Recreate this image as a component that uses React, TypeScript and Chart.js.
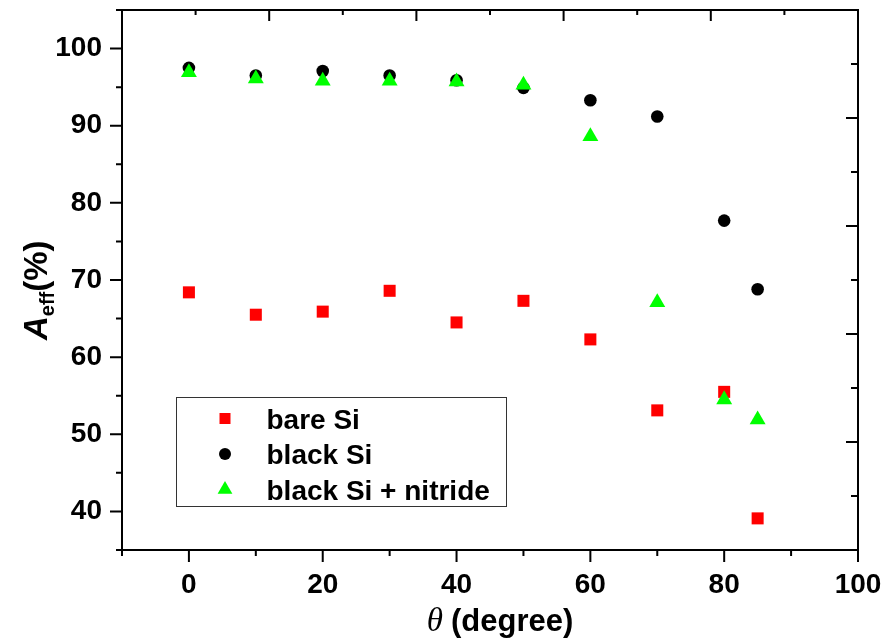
import React, { useEffect, useRef } from 'react';
import { Chart, registerables } from 'chart.js';

Chart.register(...registerables);

// ---- data ----
const angles = [0, 10, 20, 30, 40, 50, 60, 70, 80, 85];
const bareSi = [68.4, 65.5, 65.9, 68.6, 64.5, 67.3, 62.3, 53.1, 55.5, 39.1];
const blackSi = [97.5, 96.5, 97.1, 96.5, 95.9, 94.9, 93.3, 91.2, 77.7, 68.8];
const blackSiNitride = [96.9, 96.1, 95.8, 95.8, 95.7, 95.3, 88.6, 67.1, 54.5, 51.9];
const seriesLabels = ['bare Si', 'black Si', 'black Si + nitride'];
const seriesColors = ['#ff0000', '#000000', '#00ff00'];

const xTickLabels = [0, 20, 40, 60, 80, 100];
const xMinorTicks = [-10, 10, 30, 50, 70, 90];
const yTickLabels = [40, 50, 60, 70, 80, 90, 100];
const yMinorTicks = [35, 45, 55, 65, 75, 85, 95, 105];
const topMajorTicks = [0, 20, 40, 60, 80, 100];
const topMinorTicks = [10, 30, 50, 70, 90];
const rightMajorTicks = [0, 20, 40, 60, 80, 100];
const rightMinorTicks = [10, 30, 50, 70, 90];

const SANS = '"Liberation Sans", Arial, sans-serif';

const framePlugin = {
  id: 'frameTicks',
  afterDraw(chart: any) {
    const { ctx, chartArea: a, scales } = chart;
    ctx.save();
    ctx.strokeStyle = '#000';
    ctx.lineWidth = 2;
    ctx.strokeRect(a.left, a.top, a.right - a.left, a.bottom - a.top);
    ctx.beginPath();
    const MAJ = 12, MIN = 6;
    xTickLabels.forEach((v) => { const p = scales.x.getPixelForValue(v); ctx.moveTo(p, a.bottom); ctx.lineTo(p, a.bottom + MAJ); });
    xMinorTicks.forEach((v) => { const p = scales.x.getPixelForValue(v); ctx.moveTo(p, a.bottom); ctx.lineTo(p, a.bottom + MIN); });
    yTickLabels.forEach((v) => { const p = scales.y.getPixelForValue(v); ctx.moveTo(a.left, p); ctx.lineTo(a.left - MAJ, p); });
    yMinorTicks.forEach((v) => { const p = scales.y.getPixelForValue(v); ctx.moveTo(a.left, p); ctx.lineTo(a.left - MIN, p); });
    topMajorTicks.forEach((v) => { const p = scales.x2.getPixelForValue(v); ctx.moveTo(p, a.top); ctx.lineTo(p, a.top + 11); });
    topMinorTicks.forEach((v) => { const p = scales.x2.getPixelForValue(v); ctx.moveTo(p, a.top); ctx.lineTo(p, a.top + 5); });
    rightMajorTicks.forEach((v) => { const p = scales.y2.getPixelForValue(v); ctx.moveTo(a.right, p); ctx.lineTo(a.right - 12, p); });
    rightMinorTicks.forEach((v) => { const p = scales.y2.getPixelForValue(v); ctx.moveTo(a.right, p); ctx.lineTo(a.right - 7, p); });
    ctx.stroke();
    ctx.restore();
  },
};

const titlesPlugin = {
  id: 'axisTitles',
  afterDraw(chart: any) {
    const { ctx, chartArea: a } = chart;
    ctx.save();
    ctx.fillStyle = '#000';
    ctx.textBaseline = 'alphabetic';
    ctx.textAlign = 'left';
    // x title
    const thetaFont = 'italic 33px "Liberation Serif", "Times New Roman", serif';
    const degFont = `bold 31px ${SANS}`;
    ctx.font = thetaFont;
    const wT = ctx.measureText('θ').width;
    ctx.font = degFont;
    const wD = ctx.measureText('(degree)').width;
    const gap = 8;
    const cx = (a.left + a.right) / 2 + 10;
    const x0 = cx - (wT + gap + wD) / 2;
    const base = a.bottom + 81;
    ctx.font = thetaFont;
    ctx.fillText('θ', x0, base);
    ctx.font = degFont;
    ctx.fillText('(degree)', x0 + wT + gap, base);

    // y title rotated
    ctx.translate(a.left - 75, (a.top + a.bottom) / 2 + 60);
    ctx.rotate(-Math.PI / 2);
    const aFont = `italic bold 33px ${SANS}`;
    const subFont = `bold 20px ${SANS}`;
    const pFont = `bold 33px ${SANS}`;
    let x = 0;
    ctx.font = aFont;
    ctx.fillText('A', x, 0);
    x += ctx.measureText('A').width;
    ctx.font = subFont;
    ctx.fillText('eff', x, 7);
    x += ctx.measureText('eff').width;
    ctx.font = pFont;
    ctx.fillText('(%)', x, 0);
    ctx.restore();
  },
};

const legendPlugin = {
  id: 'customLegend',
  afterDraw(chart: any) {
    const { ctx, chartArea: a } = chart;
    const bx = a.left + 54.5, by = a.top + 387.5, bw = 330, bh = 109;
    ctx.save();
    ctx.strokeStyle = '#333';
    ctx.lineWidth = 1;
    ctx.strokeRect(bx, by, bw, bh);
    chart.data.datasets.forEach((ds: any, i: number) => {
      const my = by + 21 + i * 35.5;
      const mx = bx + 48.5;
      ctx.fillStyle = ds.backgroundColor;
      ctx.beginPath();
      if (ds.pointStyle === 'rect') {
        ctx.rect(mx - 5.5, my - 5.5, 11, 11);
      } else if (ds.pointStyle === 'circle') {
        ctx.arc(mx, my, 6, 0, Math.PI * 2);
      } else {
        const r = 8.5;
        ctx.moveTo(mx, my - r);
        ctx.lineTo(mx + r * 0.866, my + r * 0.5);
        ctx.lineTo(mx - r * 0.866, my + r * 0.5);
        ctx.closePath();
      }
      ctx.fill();
      ctx.fillStyle = '#000';
      ctx.font = `bold 28px ${SANS}`;
      ctx.textBaseline = 'alphabetic';
      ctx.textAlign = 'left';
      ctx.fillText(ds.label, bx + 90, my + 10);
    });
    ctx.restore();
  },
};

const zeroPad = (s: any) => {
  s.paddingTop = 0;
  s.paddingBottom = 0;
  s.paddingLeft = 0;
  s.paddingRight = 0;
};

export default function App() {
  const ref = useRef<HTMLCanvasElement>(null);
  useEffect(() => {
    if (!ref.current) return;
    const mk = (vals: number[]) => angles.map((a, i) => ({ x: a, y: vals[i] }));
    const tickFont = { family: SANS, size: 28, weight: 'bold' as const };
    const chart = new Chart(ref.current, {
      type: 'scatter',
      data: {
        datasets: [
          { label: seriesLabels[0], data: mk(bareSi), pointStyle: 'rect', pointRadius: 8.5, backgroundColor: seriesColors[0], borderColor: seriesColors[0], borderWidth: 0, order: 2 },
          { label: seriesLabels[1], data: mk(blackSi), pointStyle: 'circle', pointRadius: 6.3, backgroundColor: seriesColors[1], borderColor: seriesColors[1], borderWidth: 0, order: 1 },
          { label: seriesLabels[2], data: mk(blackSiNitride), pointStyle: 'triangle', pointRadius: 9.2, backgroundColor: seriesColors[2], borderColor: seriesColors[2], borderWidth: 0, order: 0 },
        ] as any,
      },
      options: {
        responsive: false,
        animation: false,
        events: [],
        layout: { padding: { left: 0, top: 10, right: 29, bottom: 0 } },
        plugins: { legend: { display: false }, tooltip: { enabled: false } },
        scales: {
          x: {
            type: 'linear', position: 'bottom', min: -10, max: 100,
            grid: { display: false, drawTicks: false }, border: { display: false },
            ticks: { font: tickFont, color: '#000', padding: 18, maxRotation: 0, autoSkip: false },
            afterBuildTicks: (s: any) => { s.ticks = xTickLabels.map((v) => ({ value: v })); },
            afterFit: (s: any) => { s.height = 94; zeroPad(s); },
          },
          y: {
            type: 'linear', position: 'left', min: 35, max: 105,
            grid: { display: false, drawTicks: false }, border: { display: false },
            ticks: { font: tickFont, color: '#000', padding: 20, autoSkip: false },
            afterBuildTicks: (s: any) => { s.ticks = yTickLabels.map((v) => ({ value: v })); },
            afterFit: (s: any) => { s.width = 122; zeroPad(s); },
          },
          x2: { type: 'linear', position: 'top', min: 0, max: 100, display: false },
          y2: { type: 'linear', position: 'right', min: 0, max: 100, display: false },
        } as any,
      },
      plugins: [framePlugin, titlesPlugin, legendPlugin],
    });
    return () => chart.destroy();
  }, []);
  return (
    <div style={{ position: 'fixed', left: 0, top: 0, width: 887, height: 644, background: '#fff' }}>
      <canvas ref={ref} width={887} height={644} style={{ display: 'block' }} />
    </div>
  );
}
